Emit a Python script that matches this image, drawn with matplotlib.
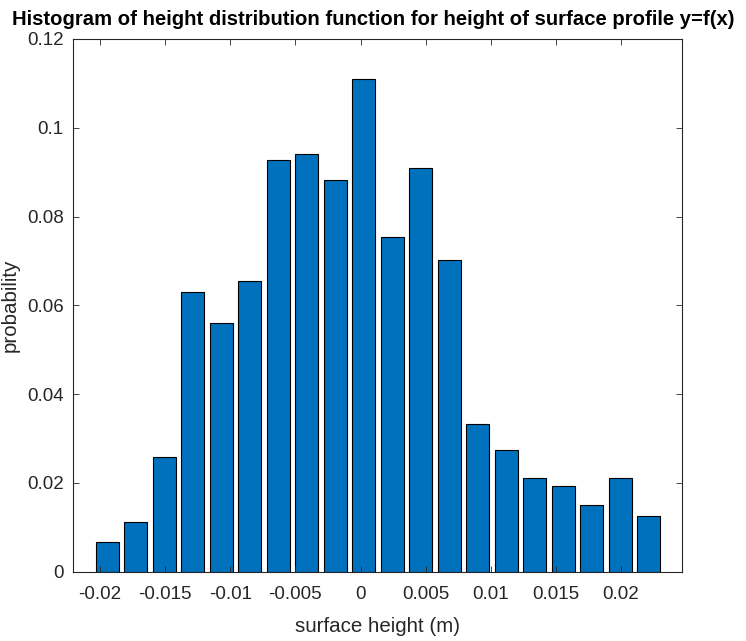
import matplotlib
matplotlib.use('Agg')
import matplotlib.pyplot as plt

# bin centres of the surface-height histogram (m)
bin_centres = [-0.01945, -0.01726, -0.01507, -0.01289, -0.01070,
               -0.00851, -0.00632, -0.00413, -0.00195, 0.00024,
               0.00243, 0.00462, 0.00681, 0.00899, 0.01118,
               0.01337, 0.01556, 0.01775, 0.01993, 0.02212]
bin_step = 0.002188

# probability of each bin
probability = [0.0066, 0.0111, 0.0259, 0.0629, 0.0561,
               0.0654, 0.0927, 0.0940, 0.0882, 0.1109,
               0.0755, 0.0909, 0.0702, 0.0333, 0.0274,
               0.0210, 0.0192, 0.0150, 0.0210, 0.0126]

x_ticks = [-0.02, -0.015, -0.01, -0.005, 0, 0.005, 0.01, 0.015, 0.02]
x_tick_labels = ['-0.02', '-0.015', '-0.01', '-0.005', '0', '0.005', '0.01', '0.015', '0.02']
y_ticks = [0, 0.02, 0.04, 0.06, 0.08, 0.1, 0.12]
y_tick_labels = ['0', '0.02', '0.04', '0.06', '0.08', '0.1', '0.12']

AXIS_GREY = '#262626'
BAR_BLUE = '#0072BD'

plt.rcParams['font.family'] = ['Liberation Sans', 'DejaVu Sans']

fig = plt.figure(figsize=(7.46, 6.41), dpi=100)
ax = fig.add_axes([0.0983, 0.1081, 0.8164, 0.8311])

ax.bar(bin_centres, probability, width=0.8 * bin_step,
       color=BAR_BLUE, edgecolor='black', linewidth=0.8)

ax.set_xlim(-0.02205, 0.02471)
ax.set_ylim(0, 0.12)
ax.set_xticks(x_ticks)
ax.set_xticklabels(x_tick_labels)
ax.set_yticks(y_ticks)
ax.set_yticklabels(y_tick_labels)

ax.tick_params(direction='in', length=4, width=0.6, colors=AXIS_GREY,
               labelsize=13.5, top=True, right=True, pad=7)
ax.tick_params(axis='x', pad=10)
for sp in ax.spines.values():
    sp.set_color(AXIS_GREY)
    sp.set_linewidth(0.8)

ax.set_xlabel('surface height (m)', fontsize=14.8, color=AXIS_GREY, labelpad=10.5)
ax.set_ylabel('probability', fontsize=14.8, color=AXIS_GREY, labelpad=5)
ax.set_title('Histogram of height distribution function for height of surface profile y=f(x)',
             fontsize=14.6, fontweight='bold', color='black', pad=10, x=0.492)

fig.savefig('out.png', dpi=100)
